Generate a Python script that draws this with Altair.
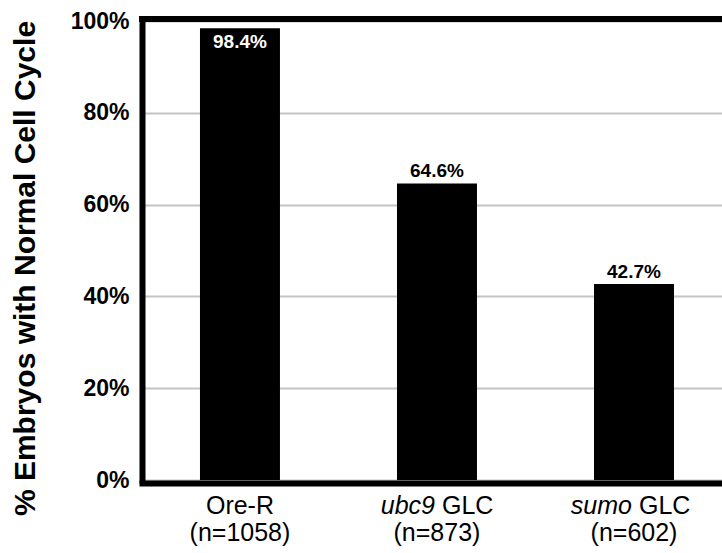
import altair as alt
import pandas as pd

# ---- data ----
categories = ["Ore-R", "ubc9 GLC", "sumo GLC"]
values = [0.984, 0.646, 0.427]
value_labels = ["98.4%", "64.6%", "42.7%"]
name_italic = ["", "ubc9", "sumo"]
name_plain = ["Ore-R", "GLC", "GLC"]
n_labels = ["(n=1058)", "(n=873)", "(n=602)"]
y_ticks = [0, 0.2, 0.4, 0.6, 0.8, 1.0]

df = pd.DataFrame({
    "category": categories,
    "value": values,
    "vlabel": value_labels,
    "ital": name_italic,
    "plain": name_plain,
    "nlab": n_labels,
})

FONT = "Liberation Sans"
W, H = 580, 459

xaxis = alt.Axis(title=None, labels=False, ticks=False, grid=False,
                 domain=True, domainColor="black", domainWidth=6,
                 domainCap="square", offset=3)
yaxis = alt.Axis(
    values=y_ticks, format=".0%", ticks=False,
    labelFont=FONT, labelFontSize=23, labelFontWeight="bold",
    labelColor="black", labelPadding=13,
    domain=True, domainColor="black", domainWidth=6, domainCap="square",
    grid=True, gridColor="#c4c4c4", gridWidth=2,
    title="% Embryos with Normal Cell Cycle",
    titleFont=FONT, titleFontSize=30, titleFontWeight="bold",
    titleColor="black", titleAngle=270, titleAlign="center",
    titleBaseline="middle", titleX=-117, titleY=247,
)
xscale = alt.Scale(paddingInner=0.594, paddingOuter=0.269, align=0.547)
yscale = alt.Scale(domain=[0, 1], nice=False, zero=True)

xs = alt.X("category:N", sort=categories, scale=xscale, axis=xaxis)
ys = alt.Y("value:Q", scale=yscale, axis=yaxis)

base = alt.Chart(df)

bars = base.mark_bar(color="black").encode(x=xs, y=ys)

lab_in = base.transform_filter("datum.value > 0.9").mark_text(
    font=FONT, fontSize=19, fontWeight="bold", color="white",
    baseline="alphabetic", dy=20,
).encode(x=xs, y=ys, text="vlabel:N")

lab_out = base.transform_filter("datum.value <= 0.9").mark_text(
    font=FONT, fontSize=19, fontWeight="bold", color="black",
    baseline="alphabetic", dy=-6,
).encode(x=xs, y=ys, text="vlabel:N")

name_center = base.transform_filter("datum.ital == ''").mark_text(
    font=FONT, fontSize=25, color="black", baseline="alphabetic", align="center",
).encode(x=xs, y=alt.value(493), text="plain:N")

name_ital = base.transform_filter("datum.ital != ''").mark_text(
    font=FONT, fontSize=25, fontStyle="italic", color="black",
    baseline="alphabetic", align="right", dx=-2,
).encode(x=xs, y=alt.value(493), text="ital:N")

name_plain_l = base.transform_filter("datum.ital != ''").mark_text(
    font=FONT, fontSize=25, color="black",
    baseline="alphabetic", align="left", dx=5,
).encode(x=xs, y=alt.value(493), text="plain:N")

n_text = base.mark_text(
    font=FONT, fontSize=25, color="black", baseline="alphabetic", align="center",
).encode(x=xs, y=alt.value(520), text="nlab:N")

top_border = alt.Chart(pd.DataFrame({"k": [0]})).mark_rule(
    color="black", strokeWidth=6
).encode(x=alt.value(-3), x2=alt.value(W), y=alt.value(-2))

chart = alt.layer(
    bars, lab_in, lab_out, name_center, name_ital, name_plain_l, n_text, top_border
).properties(
    width=W, height=H,
    autosize=alt.AutoSizeParams(type="none"),
    padding={"left": 142, "top": 21, "right": 0, "bottom": 73},
    background="white",
).configure_view(strokeWidth=0)

chart.save("out.html", embed_options={"renderer": "svg", "actions": False})
